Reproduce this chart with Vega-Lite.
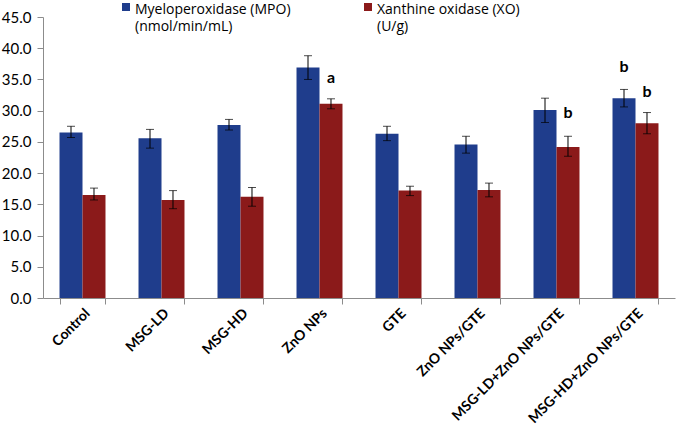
{
  "$schema": "https://vega.github.io/schema/vega-lite/v6.json",
  "width": 632,
  "height": 281,
  "autosize": {"type": "none"},
  "padding": {"left": 43, "top": 17, "right": 1, "bottom": 128},
  "background": "white",
  "config": {
    "view": {"stroke": null},
    "font": "Lato",
    "axisY": {
      "title": null,
      "format": ".1f",
      "grid": false,
      "labelOverlap": false,
      "labelFont": "Lato",
      "labelFontSize": 15,
      "labelColor": "black",
      "labelPadding": 6,
      "domainColor": "#8c8c8c",
      "tickColor": "#8c8c8c",
      "tickSize": 6
    }
  },
  "datasets": {
    "bars": [
      {"group": "Control", "series": "Myeloperoxidase (MPO)|(nmol/min/mL)", "value": 26.5, "lo": 25.7, "hi": 27.5},
      {"group": "Control", "series": "Xanthine oxidase (XO)|(U/g)", "value": 16.5, "lo": 15.7, "hi": 17.6},
      {"group": "MSG-LD", "series": "Myeloperoxidase (MPO)|(nmol/min/mL)", "value": 25.6, "lo": 24.0, "hi": 27.0},
      {"group": "MSG-LD", "series": "Xanthine oxidase (XO)|(U/g)", "value": 15.7, "lo": 14.3, "hi": 17.2},
      {"group": "MSG-HD", "series": "Myeloperoxidase (MPO)|(nmol/min/mL)", "value": 27.7, "lo": 26.9, "hi": 28.6},
      {"group": "MSG-HD", "series": "Xanthine oxidase (XO)|(U/g)", "value": 16.2, "lo": 14.7, "hi": 17.7},
      {"group": "ZnO NPs", "series": "Myeloperoxidase (MPO)|(nmol/min/mL)", "value": 36.9, "lo": 35.0, "hi": 38.8},
      {"group": "ZnO NPs", "series": "Xanthine oxidase (XO)|(U/g)", "value": 31.1, "lo": 30.3, "hi": 31.9},
      {"group": "GTE", "series": "Myeloperoxidase (MPO)|(nmol/min/mL)", "value": 26.3, "lo": 25.2, "hi": 27.5},
      {"group": "GTE", "series": "Xanthine oxidase (XO)|(U/g)", "value": 17.2, "lo": 16.4, "hi": 17.9},
      {"group": "ZnO NPs/GTE", "series": "Myeloperoxidase (MPO)|(nmol/min/mL)", "value": 24.6, "lo": 23.2, "hi": 25.9},
      {"group": "ZnO NPs/GTE", "series": "Xanthine oxidase (XO)|(U/g)", "value": 17.3, "lo": 16.2, "hi": 18.4},
      {"group": "MSG-LD+ZnO NPs/GTE", "series": "Myeloperoxidase (MPO)|(nmol/min/mL)", "value": 30.1, "lo": 28.1, "hi": 32.0},
      {"group": "MSG-LD+ZnO NPs/GTE", "series": "Xanthine oxidase (XO)|(U/g)", "value": 24.2, "lo": 22.7, "hi": 25.9},
      {"group": "MSG-HD+ZnO NPs/GTE", "series": "Myeloperoxidase (MPO)|(nmol/min/mL)", "value": 32.0, "lo": 30.6, "hi": 33.4},
      {"group": "MSG-HD+ZnO NPs/GTE", "series": "Xanthine oxidase (XO)|(U/g)", "value": 28.0, "lo": 26.3, "hi": 29.7}
    ],
    "notes": [
      {"group": "ZnO NPs", "series": "Xanthine oxidase (XO)|(U/g)", "label": "a", "pos": 35.2},
      {"group": "MSG-LD+ZnO NPs/GTE", "series": "Xanthine oxidase (XO)|(U/g)", "label": "b", "pos": 29.6},
      {"group": "MSG-HD+ZnO NPs/GTE", "series": "Myeloperoxidase (MPO)|(nmol/min/mL)", "label": "b", "pos": 37.0},
      {"group": "MSG-HD+ZnO NPs/GTE", "series": "Xanthine oxidase (XO)|(U/g)", "label": "b", "pos": 33.0}
    ]
  },
  "encoding": {
    "x": {
      "field": "group",
      "type": "nominal",
      "sort": ["Control", "MSG-LD", "MSG-HD", "ZnO NPs", "GTE", "ZnO NPs/GTE", "MSG-LD+ZnO NPs/GTE", "MSG-HD+ZnO NPs/GTE"],
      "scale": {"paddingInner": 0.418, "paddingOuter": 0.209},
      "axis": {
        "title": null,
        "tickBand": "extent",
        "labelAngle": -45,
        "labelFont": "Lato",
        "labelFontWeight": "bold",
        "labelFontSize": 14,
        "labelColor": "black",
        "labelPadding": 2,
        "labelLimit": 300,
        "labelOverlap": false,
        "domainColor": "#8c8c8c",
        "tickColor": "#8c8c8c",
        "tickSize": 6
      }
    },
    "xOffset": {"field": "series", "type": "nominal", "scale": {"paddingInner": 0, "paddingOuter": 0}}
  },
  "layer": [
    {
      "data": {"name": "bars"},
      "mark": {"type": "bar"},
      "encoding": {
        "y": {
          "field": "value",
          "type": "quantitative",
          "scale": {"domain": [0, 45], "nice": false},
          "axis": {"title": null, "values": [0, 5, 10, 15, 20, 25, 30, 35, 40, 45]}
        },
        "color": {
          "field": "series",
          "type": "nominal",
          "scale": {"range": ["#1f3d8c", "#8b1a1a"]},
          "legend": {
            "orient": "none",
            "legendX": 76,
            "legendY": -17,
            "direction": "horizontal",
            "title": null,
            "symbolType": "square",
            "symbolSize": 64,
            "symbolStrokeWidth": 0,
            "labelFont": "Open Sans",
            "labelFontSize": 14,
            "labelColor": "black",
            "labelOffset": 2,
            "labelLimit": 300,
            "labelBaseline": "top",
            "columnPadding": 70,
            "labelExpr": "split(datum.label, '|')",
            "encode": {"labels": {"update": {"dy": {"value": -4}, "lineHeight": {"value": 17}}}}
          }
        }
      }
    },
    {
      "data": {"name": "bars"},
      "mark": {"type": "rule", "color": "black", "strokeWidth": 1},
      "encoding": {
        "y": {"field": "lo", "type": "quantitative", "axis": {"title": null, "values": [0, 5, 10, 15, 20, 25, 30, 35, 40, 45]}},
        "y2": {"field": "hi"}
      }
    },
    {
      "data": {"name": "bars"},
      "mark": {"type": "tick", "color": "black", "size": 8, "thickness": 1},
      "encoding": {"y": {"field": "lo", "type": "quantitative", "axis": {"title": null, "values": [0, 5, 10, 15, 20, 25, 30, 35, 40, 45]}}}
    },
    {
      "data": {"name": "bars"},
      "mark": {"type": "tick", "color": "black", "size": 8, "thickness": 1},
      "encoding": {"y": {"field": "hi", "type": "quantitative", "axis": {"title": null, "values": [0, 5, 10, 15, 20, 25, 30, 35, 40, 45]}}}
    },
    {
      "data": {"name": "notes"},
      "mark": {"type": "text", "font": "Lato", "fontWeight": "bold", "fontSize": 16, "color": "black", "baseline": "middle"},
      "encoding": {
        "y": {"field": "pos", "type": "quantitative", "axis": {"title": null, "values": [0, 5, 10, 15, 20, 25, 30, 35, 40, 45]}},
        "text": {"field": "label"}
      }
    }
  ]
}
